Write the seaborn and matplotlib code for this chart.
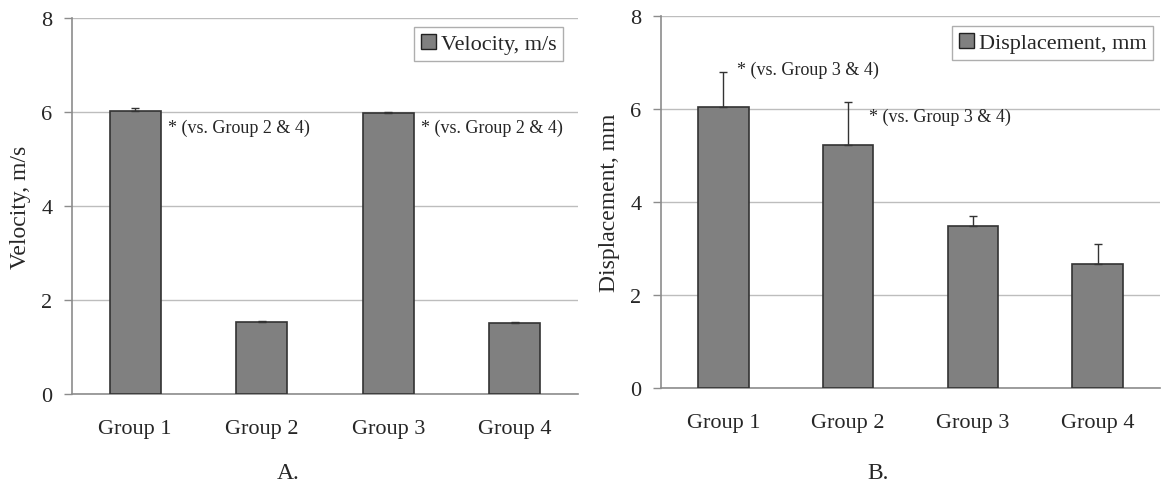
import numpy as np
import pandas as pd
import matplotlib
matplotlib.use("Agg")
import matplotlib.pyplot as plt
from matplotlib.patches import Patch
from matplotlib.ticker import FixedLocator, NullFormatter
import seaborn as sns

# Data
groups = ["Group 1", "Group 2", "Group 3", "Group 4"]
velocity = [6.02, 1.54, 5.98, 1.51]
velocity_err = [0.07, 0.02, 0.03, 0.02]
displacement = [6.05, 5.23, 3.49, 2.66]
displacement_err = [0.75, 0.93, 0.21, 0.44]
y_ticks = [0, 2, 4, 6, 8]

# significance notes: (group index, text, x offset from bar centre, y value)
vel_notes = [(0, "* (vs. Group 2 & 4)", 0.26, 5.68),
             (2, "* (vs. Group 2 & 4)", 0.26, 5.68)]
disp_notes = [(0, "* (vs. Group 3 & 4)", 0.11, 6.86),
              (1, "* (vs. Group 3 & 4)", 0.17, 5.85)]

sns.set_theme(style="white")
plt.rcParams["font.family"] = ["Liberation Serif", "DejaVu Serif"]

BAR = "#808080"
EDGE = "#333333"
GRID = "#bdbdbd"
AXIS = "#8c8c8c"

W, H = 1161, 489
fig = plt.figure(figsize=(W / 100, H / 100), dpi=100)
axA = fig.add_axes([72 / W, (H - 395) / H, 506 / W, 376 / H])
axB = fig.add_axes([661 / W, (H - 389) / H, 499 / W, 372 / H])


def draw_panel(ax, values, errs, ylabel, legend_label, legend_anchor, label_x):
    df = pd.DataFrame({"group": groups, "value": values})
    sns.barplot(data=df, x="group", y="value", ax=ax, color=BAR,
                saturation=1, width=0.405, errorbar=None,
                edgecolor=EDGE, linewidth=1.2, zorder=3)
    ax.errorbar(np.arange(len(groups)), values,
                yerr=[np.zeros(len(errs)), errs], fmt="none",
                ecolor="#333333", elinewidth=1.0, capsize=2.6,
                capthick=1.0, zorder=4)
    ax.set_xlim(-0.5, len(groups) - 0.5)
    ax.set_ylim(0, 8)
    ax.set_yticks(y_ticks)
    ax.yaxis.grid(True, color=GRID, linewidth=1.0, zorder=0)
    ax.set_axisbelow(True)
    for s in ["top", "right"]:
        ax.spines[s].set_visible(False)
    for s in ["left", "bottom"]:
        ax.spines[s].set_color(AXIS)
        ax.spines[s].set_linewidth(1.2)
    ax.tick_params(axis="x", which="major", length=0, pad=18, labelsize=16)
    ax.xaxis.set_minor_locator(FixedLocator(np.arange(-0.5, len(groups), 1.0)))
    ax.xaxis.set_minor_formatter(NullFormatter())
    ax.tick_params(axis="x", which="minor", length=6, color=AXIS, width=1.0)
    ax.tick_params(axis="y", length=6, color=AXIS, width=1.0, pad=8,
                   labelsize=16, left=True)
    ax.set_xlabel("")
    ax.set_ylabel(ylabel, fontsize=17)
    ax.yaxis.label.set_verticalalignment("center")
    ax.yaxis.set_label_coords(label_x, 0.5)
    handle = Patch(facecolor=BAR, edgecolor="#222222", linewidth=1.0)
    leg = ax.legend([handle], [legend_label], loc="upper right",
                    bbox_to_anchor=legend_anchor, fontsize=16,
                    frameon=True, fancybox=False, handlelength=0.7,
                    handleheight=0.7, handletextpad=0.2,
                    borderpad=0.3, borderaxespad=0)
    leg.get_frame().set_edgecolor("#9a9a9a")
    leg.get_frame().set_linewidth(1.0)
    return ax


draw_panel(axA, velocity, velocity_err, "Velocity, m/s", "Velocity, m/s",
           (0.970, 0.976), -0.101)
draw_panel(axB, displacement, displacement_err, "Displacement, mm",
           "Displacement, mm", (0.986, 0.973), -0.104)

for i, txt, dx, y in vel_notes:
    axA.text(i + dx, y, txt, fontsize=13, ha="left", va="center")
for i, txt, dx, y in disp_notes:
    axB.text(i + dx, y, txt, fontsize=13, ha="left", va="center")

fig.text(288 / W, 1 - 474 / H, "A.", fontsize=17, ha="center", va="center")
fig.text(878 / W, 1 - 474 / H, "B.", fontsize=17, ha="center", va="center")

fig.savefig("out.png", dpi=100, facecolor="white")
